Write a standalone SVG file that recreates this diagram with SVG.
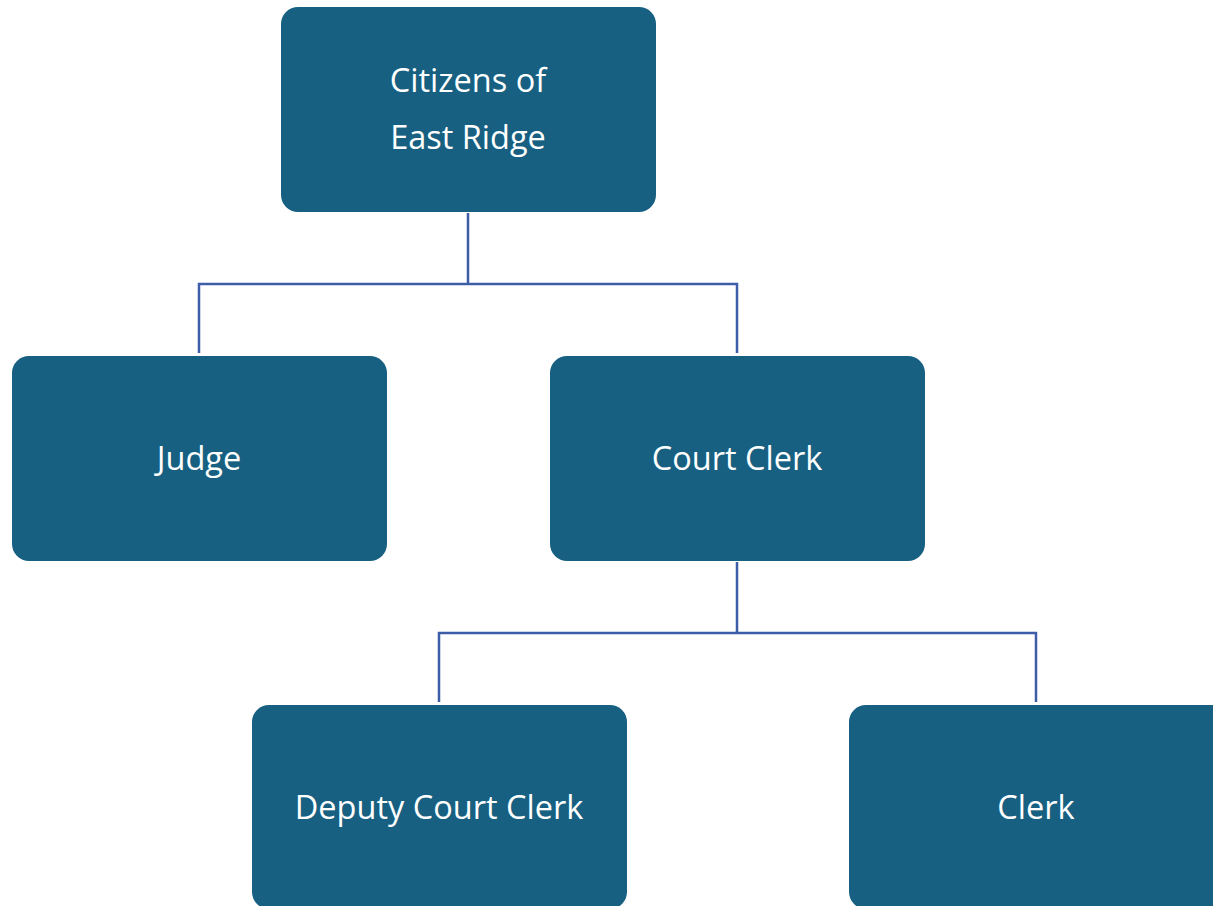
<svg xmlns="http://www.w3.org/2000/svg" width="1213" height="906" viewBox="0 0 1213 906">
<style>
.box{fill:#176081;}
.lbl{fill:#ffffff;font-family:"Open Sans","Noto Sans",sans-serif;font-size:32.5px;text-anchor:middle;}
.conn{fill:none;stroke:#3D5EA6;stroke-width:2.5;}
</style>
<rect width="1213" height="906" fill="#ffffff"/>
<g id="connectors">
<path class="conn" d="M468,213 V284 M199,353 V284 H737 V353"/>
<path class="conn" d="M737,562 V633 M439,702 V633 H1036 V702"/>
</g>
<g id="citizens">
<rect class="box" x="281" y="7" width="375" height="205" rx="17"/>
<text class="lbl" x="468" y="92">Citizens of</text>
<text class="lbl" x="468" y="149">East Ridge</text>
</g>
<g id="judge">
<rect class="box" x="12" y="356" width="375" height="205" rx="17"/>
<text class="lbl" x="199" y="470">Judge</text>
</g>
<g id="court-clerk">
<rect class="box" x="550" y="356" width="375" height="205" rx="17"/>
<text class="lbl" x="737" y="470">Court Clerk</text>
</g>
<g id="deputy">
<rect class="box" x="252" y="705" width="375" height="204" rx="17"/>
<text class="lbl" x="439" y="819">Deputy Court Clerk</text>
</g>
<g id="clerk">
<rect class="box" x="849" y="705" width="390" height="204" rx="17"/>
<text class="lbl" x="1036" y="819">Clerk</text>
</g>
</svg>
